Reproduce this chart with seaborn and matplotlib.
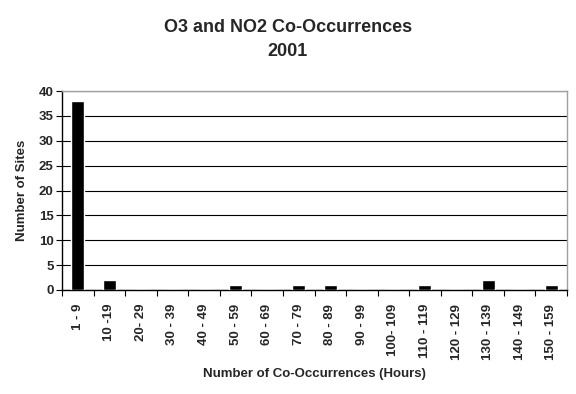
import pandas as pd
import numpy as np
import matplotlib
matplotlib.use('Agg')
import matplotlib.pyplot as plt
import seaborn as sns

# Data
categories = ['1 - 9', '10 -19', '20- 29', '30 - 39', '40 - 49', '50 - 59',
              '60 - 69', '70 - 79', '80 - 89', '90 - 99', '100- 109',
              '110 - 119', '120 - 129', '130 - 139', '140 - 149', '150 - 159']
sites = [38, 2, 0, 0, 0, 1, 0, 1, 1, 0, 0, 1, 0, 2, 0, 1]

df = pd.DataFrame({'range': categories, 'sites': sites})

sns.set_style('white')
plt.rcParams['font.family'] = ['Liberation Sans', 'DejaVu Sans']
plt.rcParams['font.weight'] = 'bold'

fig = plt.figure(figsize=(5.76, 3.94), dpi=100)
ax = fig.add_axes([62 / 576, 1 - 290 / 394, 505 / 576, 199 / 394])

sns.barplot(data=df, x='range', y='sites', color='black', width=0.41,
            saturation=1, ax=ax, zorder=3)

ax.set_xlim(-0.5, len(categories) - 0.5)
ax.set_ylim(0, 40)
ax.set_yticks(range(0, 41, 5))
ax.yaxis.grid(True, color='black', linewidth=0.8, zorder=0)
ax.xaxis.grid(False)

# tick marks between categories on the x axis
ax.set_xticks(np.arange(len(categories)))
ax.set_xticklabels(categories, rotation=90, fontsize=9.5, fontweight='bold')
ax.set_xticks(np.arange(-0.5, len(categories)), minor=True)
ax.tick_params(axis='x', which='major', length=0, pad=10)
ax.tick_params(axis='x', which='minor', length=4, width=0.8, color='black',
               direction='out', bottom=True)
ax.tick_params(axis='y', length=4, width=0.8, color='black', direction='out',
               left=True, labelsize=9.5, pad=2)
for lab in ax.get_yticklabels():
    lab.set_fontweight('bold')

for side in ['left', 'bottom']:
    ax.spines[side].set_color('black')
    ax.spines[side].set_linewidth(1)
for side in ['top', 'right']:
    ax.spines[side].set_color('#a0a0a0')
    ax.spines[side].set_linewidth(1)

ax.set_xlabel('Number of Co-Occurrences (Hours)', fontsize=9.5, fontweight='bold', labelpad=6)
ax.set_ylabel('Number of Sites', fontsize=9.5, fontweight='bold', labelpad=8)

fig.text(0.5, 1 - 28 / 394, 'O3 and NO2 Co-Occurrences', ha='center', va='center',
         fontsize=13, fontweight='bold')
fig.text(0.5, 1 - 51 / 394, '2001', ha='center', va='center',
         fontsize=13, fontweight='bold')

fig.savefig('out.png', dpi=100)
